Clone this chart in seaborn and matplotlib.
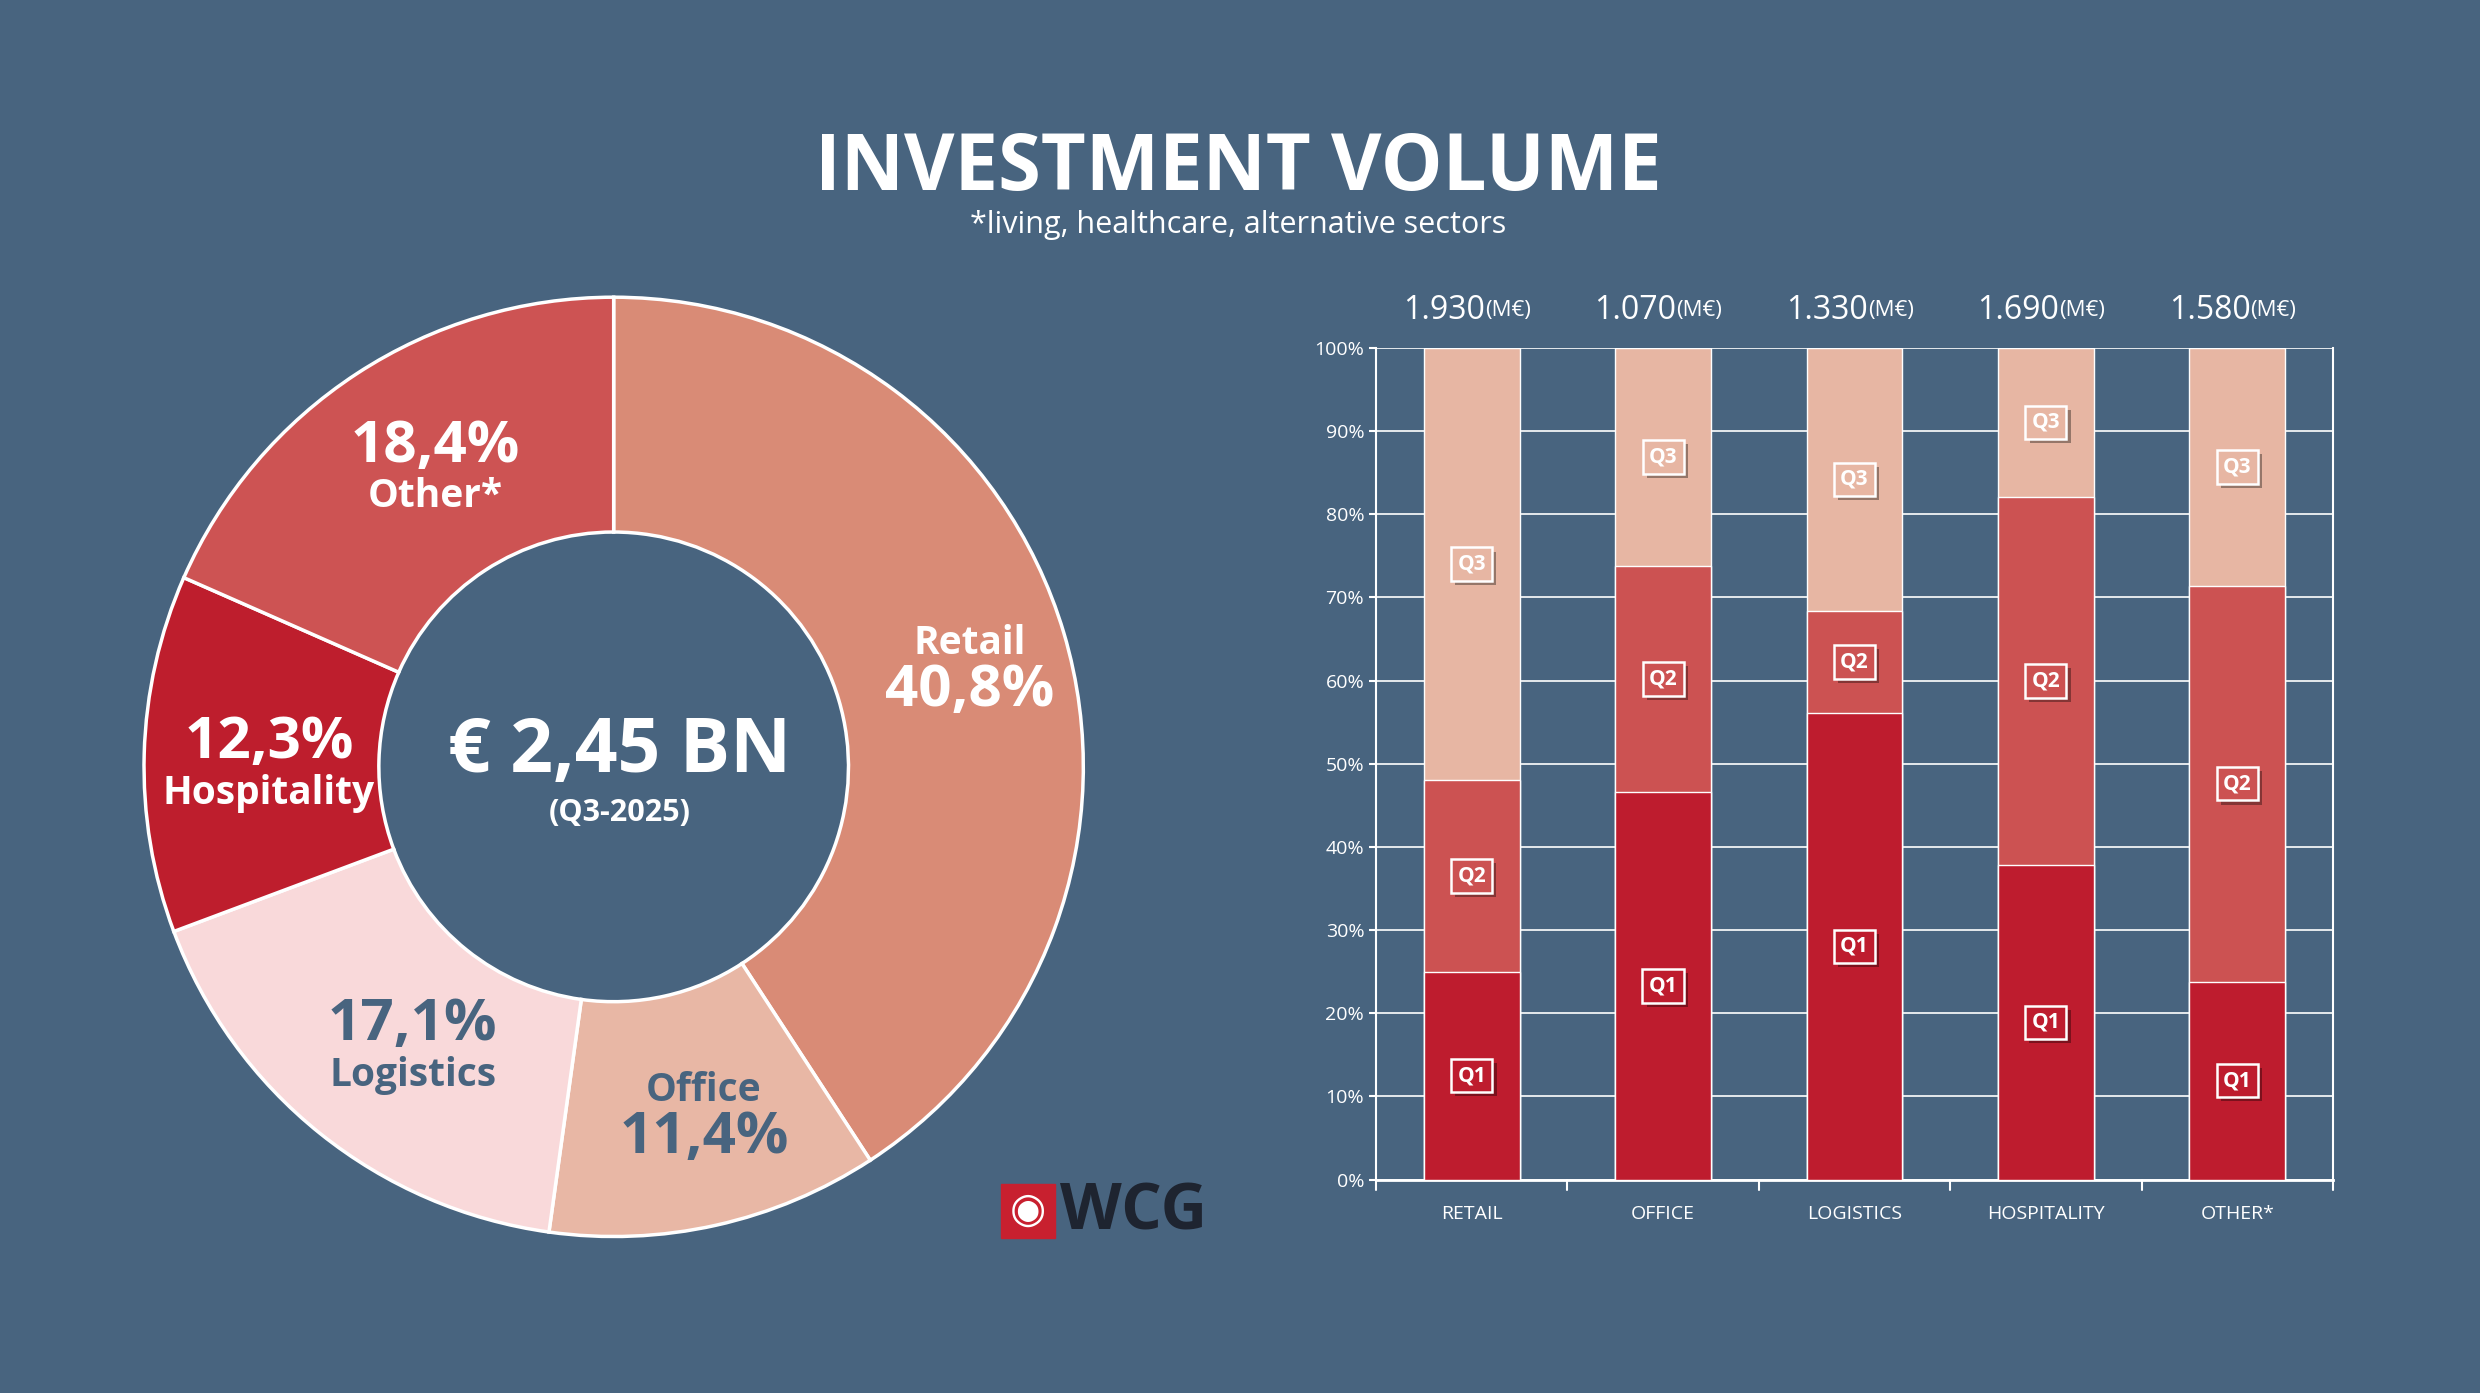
import numpy as np
import pandas as pd
import matplotlib.pyplot as plt
import matplotlib.patheffects as pe
import seaborn as sns

sns.set_style("white")
plt.rcParams["font.family"] = ["Open Sans", "DejaVu Sans"]

bg = "#48647F"
c_q1 = "#BE1C2E"
c_q2 = "#CC5252"
c_q3 = "#E7B6A3"

donut = pd.DataFrame({
    "sector": ["Retail", "Office", "Logistics", "Hospitality", "Other*"],
    "share": [40.8, 11.4, 17.1, 12.3, 18.4],
    "color": ["#D98B76", "#E8B7A5", "#F9D9DA", "#BE1E2D", "#CD5353"],
})

bars = pd.DataFrame({
    "sector": ["RETAIL", "OFFICE", "LOGISTICS", "HOSPITALITY", "OTHER*"],
    "total": ["1.930", "1.070", "1.330", "1.690", "1.580"],
    "Q1": [25.0, 46.6, 56.1, 37.8, 23.8],
    "Q2": [23.0, 27.2, 12.3, 44.3, 47.6],
})
bars["Q3"] = 100 - bars["Q1"] - bars["Q2"]

W, H = 1568, 881  # layout grid of the reference
fig = plt.figure(figsize=(24.8, 13.93), dpi=100, facecolor=bg)


def ft(px, py, s, **kw):
    fig.text(px / W, 1 - py / H, s, ha="center", va="center", zorder=20, **kw)


ft(783, 107, "INVESTMENT VOLUME", color="white", fontsize=56, fontweight="bold")
ft(783, 142, "*living, healthcare, alternative sectors", color="white", fontsize=22)

# donut
ax1 = fig.add_axes([88 / W, 1 - 785 / H, 600 / W, 600 / H], zorder=1)
ax1.set_facecolor(bg)
ax1.pie(donut["share"], colors=donut["color"], startangle=90, counterclock=False,
        radius=1, wedgeprops=dict(width=0.5, edgecolor="white", linewidth=2.5))
ax1.set_xlim(-1.01, 1.01)
ax1.set_ylim(-1.01, 1.01)
ax1.set_aspect("equal")
ax1.axis("off")

labels = [
    ("Retail", "40,8%", 613, 407, 437, "white"),
    ("Office", "11,4%", 445, 690, 720, bg),
    ("Logistics", "17,1%", 261, 680, 648, bg),
    ("Hospitality", "12,3%", 170, 502, 470, "white"),
    ("Other*", "18,4%", 275, 314, 283, "white"),
]
for name, pct, x, yn, yp, col in labels:
    ft(x, yn, name, color=col, fontsize=28, fontweight="bold")
    ft(x, yp, pct, color=col, fontsize=42, fontweight="bold")

ft(392, 476, "€ 2,45 BN", color="white", fontsize=54, fontweight="bold")
ft(392, 514, "(Q3-2025)", color="white", fontsize=22, fontweight="bold")

# logo
fig.patches.append(plt.Rectangle((633 / W, 1 - 783 / H), 34 / W, 34 / H,
                                 transform=fig.transFigure, color="#C8202F"))
ft(650, 766, "◉", color="white", fontsize=30)
fig.text(670 / W, 1 - 767 / H, "WCG", ha="left", va="center", color="#1E2430",
         fontsize=46, fontweight="bold")

# stacked bars
ax2 = fig.add_axes([870 / W, 1 - 746 / H, 605 / W, 526 / H])
ax2.set_facecolor(bg)
q12 = bars["Q1"] + bars["Q2"]
sns.barplot(x=bars["sector"], y=[100] * 5, color=c_q3, width=0.5, saturation=1,
            edgecolor="white", linewidth=1, ax=ax2, zorder=3)
sns.barplot(x=bars["sector"], y=q12, color=c_q2, width=0.5, saturation=1,
            edgecolor="white", linewidth=1, ax=ax2, zorder=3)
sns.barplot(x=bars["sector"], y=bars["Q1"], color=c_q1, width=0.5, saturation=1,
            edgecolor="white", linewidth=1, ax=ax2, zorder=3)

ax2.set_xlim(-0.5, 4.5)
ax2.set_ylim(0, 100)
ax2.set_yticks(np.arange(0, 101, 10))
ax2.set_yticklabels([f"{v}%" for v in range(0, 101, 10)], color="white", fontsize=14)
ax2.set_xticks(range(5))
ax2.set_xticklabels(bars["sector"], color="white", fontsize=14)
ax2.tick_params(axis="x", length=0, pad=18)
ax2.tick_params(axis="y", length=5, color="white", width=1.5, left=True)
ax2.set_xlabel("")
ax2.set_ylabel("")
ax2.grid(axis="y", color="white", linewidth=1.2, zorder=0)
ax2.set_axisbelow(True)
for side in ["left", "right"]:
    ax2.spines[side].set_color("white")
    ax2.spines[side].set_linewidth(1.5)
ax2.spines["bottom"].set_color("white")
ax2.spines["bottom"].set_linewidth(2)
ax2.spines["top"].set_visible(False)
for xb in np.arange(-0.5, 4.6, 1):
    ax2.plot([xb, xb], [0, -1.2], color="white", lw=1.5, clip_on=False)

shadow = [pe.withSimplePatchShadow(offset=(3, -3), alpha=0.5)]
for i, r in bars.iterrows():
    mids = [r["Q1"] / 2, r["Q1"] + r["Q2"] / 2, r["Q1"] + r["Q2"] + r["Q3"] / 2]
    for q, m, col in zip(["Q1", "Q2", "Q3"], mids, [c_q1, c_q2, c_q3]):
        t = ax2.text(i, m, q, ha="center", va="center", color="white", fontsize=15,
                     fontweight="bold", zorder=5,
                     bbox=dict(boxstyle="square,pad=0.3", fc=col, ec="white", lw=1.8))
        t.get_bbox_patch().set_path_effects(shadow)
    ax2.text(i + 0.07, 104.5, r["total"], ha="right", va="center", color="white", fontsize=23)
    ax2.text(i + 0.07, 104.5, "(M€)", ha="left", va="center", color="white", fontsize=16)

fig.savefig("out.png", facecolor=bg)
